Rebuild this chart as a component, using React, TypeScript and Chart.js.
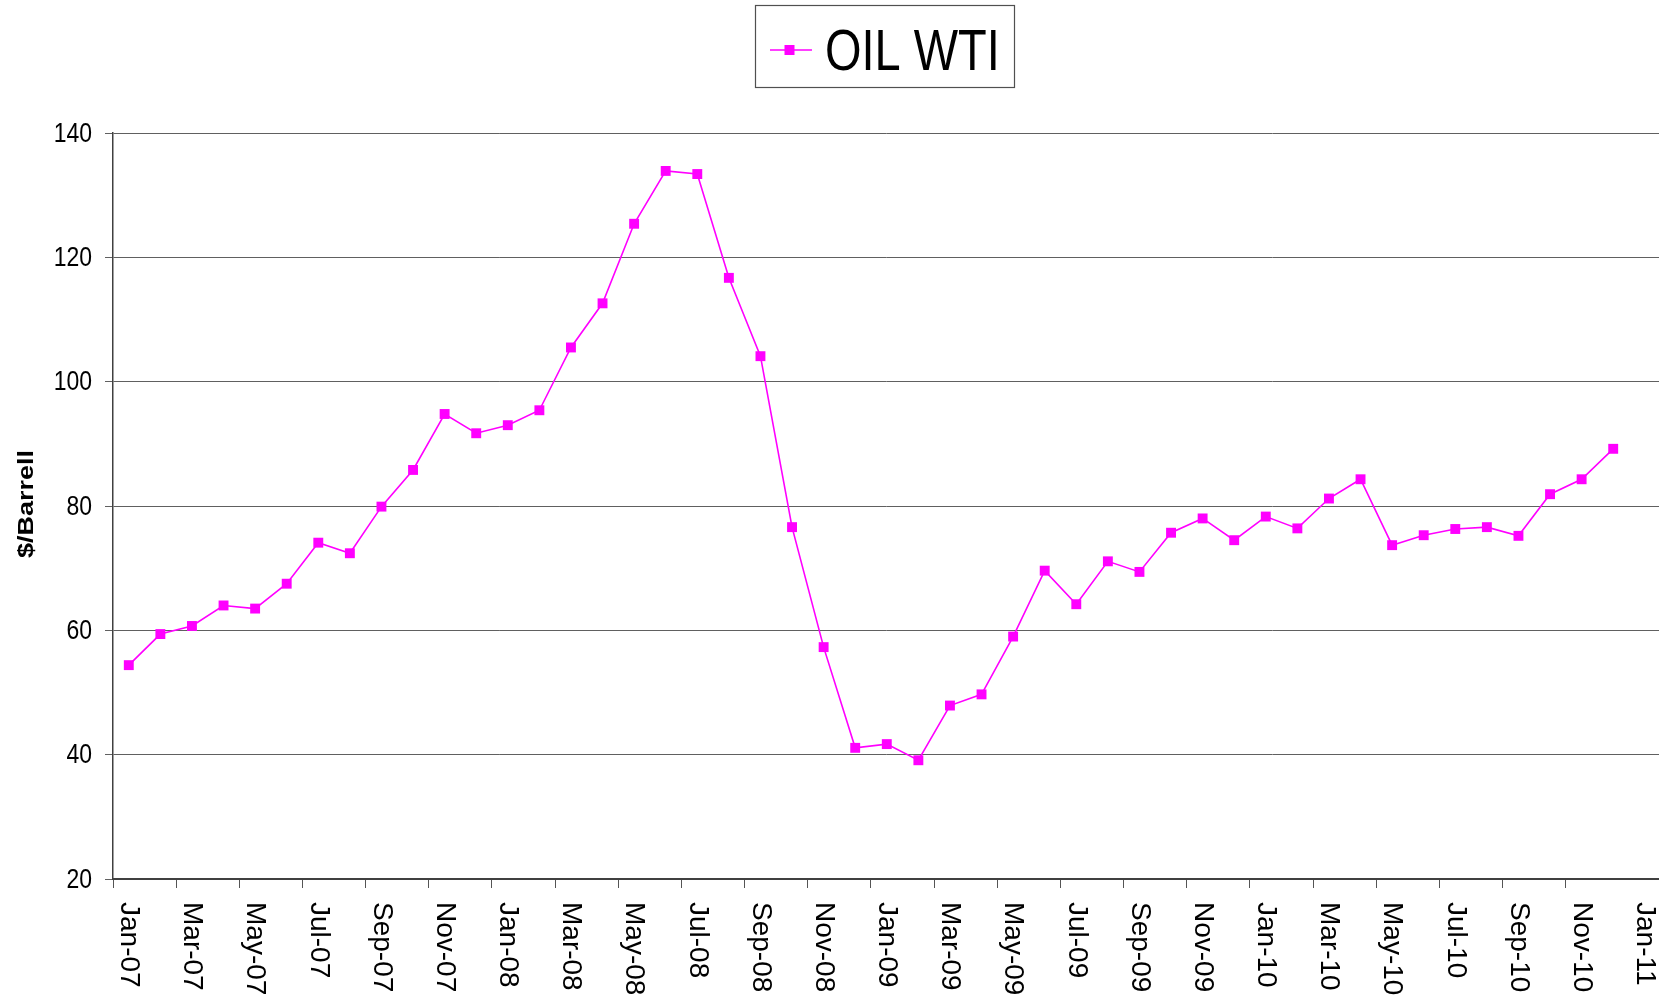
import React, { useEffect, useRef } from "react";
import { Chart, registerables } from "chart.js";

Chart.register(...registerables);

const months = [
  "Jan-07", "Feb-07", "Mar-07", "Apr-07", "May-07", "Jun-07", "Jul-07", "Aug-07", "Sep-07", "Oct-07", "Nov-07", "Dec-07",
  "Jan-08", "Feb-08", "Mar-08", "Apr-08", "May-08", "Jun-08", "Jul-08", "Aug-08", "Sep-08", "Oct-08", "Nov-08", "Dec-08",
  "Jan-09", "Feb-09", "Mar-09", "Apr-09", "May-09", "Jun-09", "Jul-09", "Aug-09", "Sep-09", "Oct-09", "Nov-09", "Dec-09",
  "Jan-10", "Feb-10", "Mar-10", "Apr-10", "May-10", "Jun-10", "Jul-10", "Aug-10", "Sep-10", "Oct-10", "Nov-10", "Dec-10",
  "Jan-11",
];

const oilWti = [
  54.4, 59.4, 60.7, 64.0, 63.5, 67.5, 74.1, 72.4, 79.9, 85.8, 94.8, 91.7,
  93.0, 95.4, 105.5, 112.6, 125.4, 133.9, 133.4, 116.7, 104.1, 76.6, 57.3, 41.1,
  41.7, 39.1, 47.9, 49.7, 59.0, 69.6, 64.2, 71.1, 69.4, 75.7, 78.0, 74.5,
  78.3, 76.4, 81.2, 84.3, 73.7, 75.3, 76.3, 76.6, 75.2, 81.9, 84.3, 89.2,
];

const yTicks = [20, 40, 60, 80, 100, 120, 140];
const seriesName = "OIL WTI";
const axisTitle = "$/Barrell";

const MAGENTA = "#FF00FF";
const FONT = '"Liberation Sans", Arial, sans-serif';

const decorPlugin = {
  id: "decor",
  afterDraw(chart: any) {
    const ctx = chart.ctx as CanvasRenderingContext2D;
    const xs = chart.scales.x;
    const ys = chart.scales.y;
    const area = chart.chartArea;
    ctx.save();
    ctx.fillStyle = "#000";
    // y tick labels (condensed)
    ctx.textAlign = "right";
    ctx.textBaseline = "middle";
    yTicks.forEach((v) => {
      const y = ys.getPixelForValue(v);
      ctx.save();
      ctx.translate(area.left - 21, y + 1);
      ctx.scale(0.82, 1);
      ctx.font = "28px " + FONT;
      ctx.fillText(String(v), 0, 0);
      ctx.restore();
    });
    // x tick labels (rotated clockwise)
    ctx.font = "28px " + FONT;
    ctx.textAlign = "left";
    ctx.textBaseline = "middle";
    months.forEach((m, i) => {
      if (i % 2) return;
      const x = xs.getPixelForValue(i);
      ctx.save();
      ctx.translate(x, area.bottom + 23);
      ctx.rotate(Math.PI / 2);
      ctx.fillText(m, 0, 0);
      ctx.restore();
    });
    // y axis title
    ctx.save();
    ctx.translate(33, (area.top + area.bottom) / 2 - 2);
    ctx.rotate(-Math.PI / 2);
    ctx.scale(1, 0.82);
    ctx.font = "bold 27px " + FONT;
    ctx.textAlign = "center";
    ctx.textBaseline = "alphabetic";
    ctx.fillText(axisTitle, 0, 0);
    ctx.restore();
    // legend
    ctx.strokeStyle = "#505050";
    ctx.lineWidth = 1.2;
    ctx.strokeRect(755.5, 5.5, 259, 82);
    ctx.strokeStyle = MAGENTA;
    ctx.lineWidth = 1.5;
    ctx.beginPath();
    ctx.moveTo(770, 50);
    ctx.lineTo(812, 50);
    ctx.stroke();
    ctx.fillStyle = MAGENTA;
    ctx.fillRect(784.5, 45, 10, 10);
    ctx.save();
    ctx.translate(825, 70);
    ctx.scale(0.81, 1);
    ctx.font = "58px " + FONT;
    ctx.fillStyle = "#000";
    ctx.textAlign = "left";
    ctx.textBaseline = "alphabetic";
    ctx.fillText(seriesName, 0, 0);
    ctx.restore();
    ctx.restore();
  },
};

export default function App() {
  const canvasRef = useRef<HTMLCanvasElement | null>(null);

  useEffect(() => {
    if (!canvasRef.current) return;
    const chart = new Chart(canvasRef.current, {
      type: "line",
      data: {
        datasets: [
          {
            label: seriesName,
            data: oilWti.map((v, i) => ({ x: i, y: v })),
            borderColor: MAGENTA,
            backgroundColor: MAGENTA,
            borderWidth: 1.6,
            pointStyle: "rect",
            pointRadius: 7,
            pointBorderWidth: 0,
            pointBackgroundColor: MAGENTA,
            tension: 0,
          },
        ],
      },
      options: {
        animation: false,
        responsive: true,
        maintainAspectRatio: false,
        events: [],
        layout: { autoPadding: false, padding: { top: 133, left: 0, right: 0, bottom: 0 } },
        plugins: {
          legend: { display: false },
          title: { display: false },
          tooltip: { enabled: false },
        },
        scales: {
          x: {
            type: "linear",
            min: -0.5,
            max: 48.45,
            afterBuildTicks: (scale: any) => {
              const t: any[] = [];
              for (let i = 0; i < months.length - 1; i += 2) t.push({ value: i - 0.5 });
              scale.ticks = t;
            },
            afterFit: (scale: any) => {
              scale.height = 117;
            },
            ticks: { display: false },
            grid: {
              drawOnChartArea: false,
              drawTicks: true,
              tickLength: 9,
              color: "#555",
              lineWidth: 1,
            },
            border: { display: true, color: "#404040", width: 2 },
          },
          y: {
            type: "linear",
            min: 20,
            max: 140,
            afterBuildTicks: (scale: any) => {
              scale.ticks = yTicks.map((v) => ({ value: v }));
            },
            afterFit: (scale: any) => {
              scale.width = 113;
            },
            ticks: { display: false },
            grid: {
              drawOnChartArea: true,
              drawTicks: true,
              tickLength: 8,
              color: "#606060",
              lineWidth: 1,
            },
            border: { display: true, color: "#404040", width: 1.5 },
          },
        },
      },
      plugins: [decorPlugin],
    });
    return () => chart.destroy();
  }, []);

  return (
    <div style={{ position: "fixed", left: 0, top: 0, width: 1659, height: 996, background: "#fff", overflow: "hidden" }}>
      <canvas ref={canvasRef} />
    </div>
  );
}
